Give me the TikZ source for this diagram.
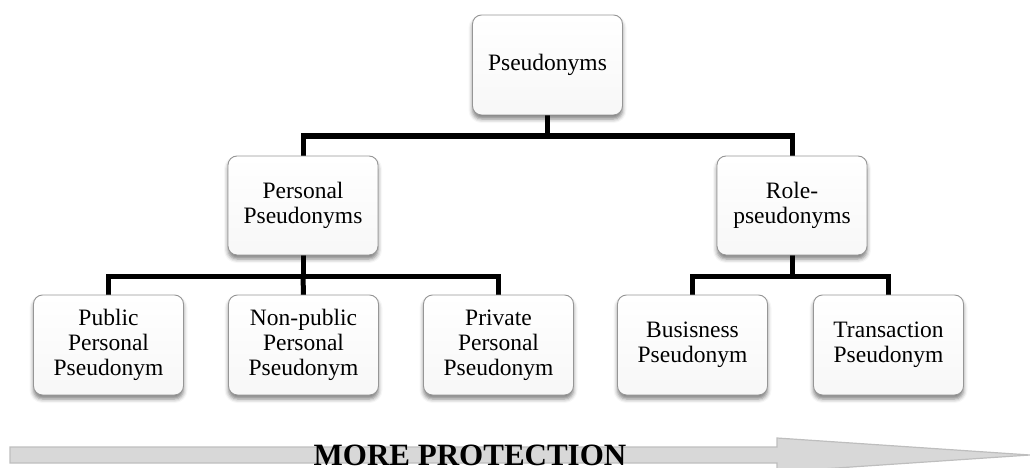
\documentclass[tikz,border=0pt]{standalone}
\usepackage{fontspec}
\setmainfont{Liberation Serif}
\usetikzlibrary{shadows.blur}
\definecolor{boxline}{RGB}{150,150,150}
\definecolor{arrfill}{RGB}{216,216,216}
\definecolor{arrline}{RGB}{190,190,190}
\tikzset{
  pbox/.style={draw=boxline, line width=0.9pt, rounded corners=9pt,
    top color=white, bottom color=black!3,
    minimum width=150pt, minimum height=100pt, align=center,
    font=\fontsize{23.5}{25}\selectfont, inner sep=2pt,
    blur shadow={shadow xshift=0pt, shadow yshift=-4pt, shadow blur radius=4pt, shadow opacity=50}},
  conn/.style={line width=5pt, draw=black, line join=miter},
}
\begin{document}
\begin{tikzpicture}[x=1pt,y=-1pt]
\useasboundingbox (0,0) rectangle (1030,468);
% connectors first (behind boxes)
\coordinate (b0) at (547.5,136);
\coordinate (b1) at (303,276);
\coordinate (b2) at (792,276);
\coordinate (pS) at (547.5,115);
\coordinate (ppN) at (303,156);
\coordinate (ppS) at (303,255);
\coordinate (rpN) at (792,156);
\coordinate (rpS) at (792,255);
\coordinate (t1) at (108.5,295);
\coordinate (t2) at (303.5,295);
\coordinate (t3) at (498.5,295);
\coordinate (t4) at (692.5,295);
\coordinate (t5) at (888.5,295);
\draw[conn] (pS) -- (b0);
\draw[conn] (ppN) |- (b0) -| (rpN);
\draw[conn] (ppS) -- (b1);
\draw[conn] (t1) |- (b1) -| (t3);
\draw[conn] (b1) -- (t2);
\draw[conn] (rpS) -- (b2);
\draw[conn] (t4) |- (b2) -| (t5);
% boxes
\node[pbox, minimum height=100pt] (P) at (547.5,65) {Pseudonyms};
\node[pbox, minimum height=99pt] (PP) at (303,205.5) {Personal\\Pseudonyms};
\node[pbox, minimum height=99pt] (RP) at (792,205.5) {Role-\\pseudonyms};
\node[pbox] (B1) at (108.5,345) {Public\\Personal\\Pseudonym};
\node[pbox] (B2) at (303.5,345) {Non-public\\Personal\\Pseudonym};
\node[pbox] (B3) at (498.5,345) {Private\\Personal\\Pseudonym};
\node[pbox] (B4) at (692.5,345) {Busisness\\Pseudonym};
\node[pbox] (B5) at (888.5,345) {Transaction\\Pseudonym};
% big arrow
\draw[fill=arrfill, draw=arrline, line width=1.2pt, line join=miter]
  (10,447) -- (777,447) -- (777,438) -- (1030,455) -- (777,472) -- (777,463) -- (10,463) -- cycle;
\node[font=\bfseries\fontsize{31}{31}\selectfont, anchor=base, inner sep=0pt] (T) at (470,465.5) {MORE PROTECTION};
\end{tikzpicture}
\end{document}
